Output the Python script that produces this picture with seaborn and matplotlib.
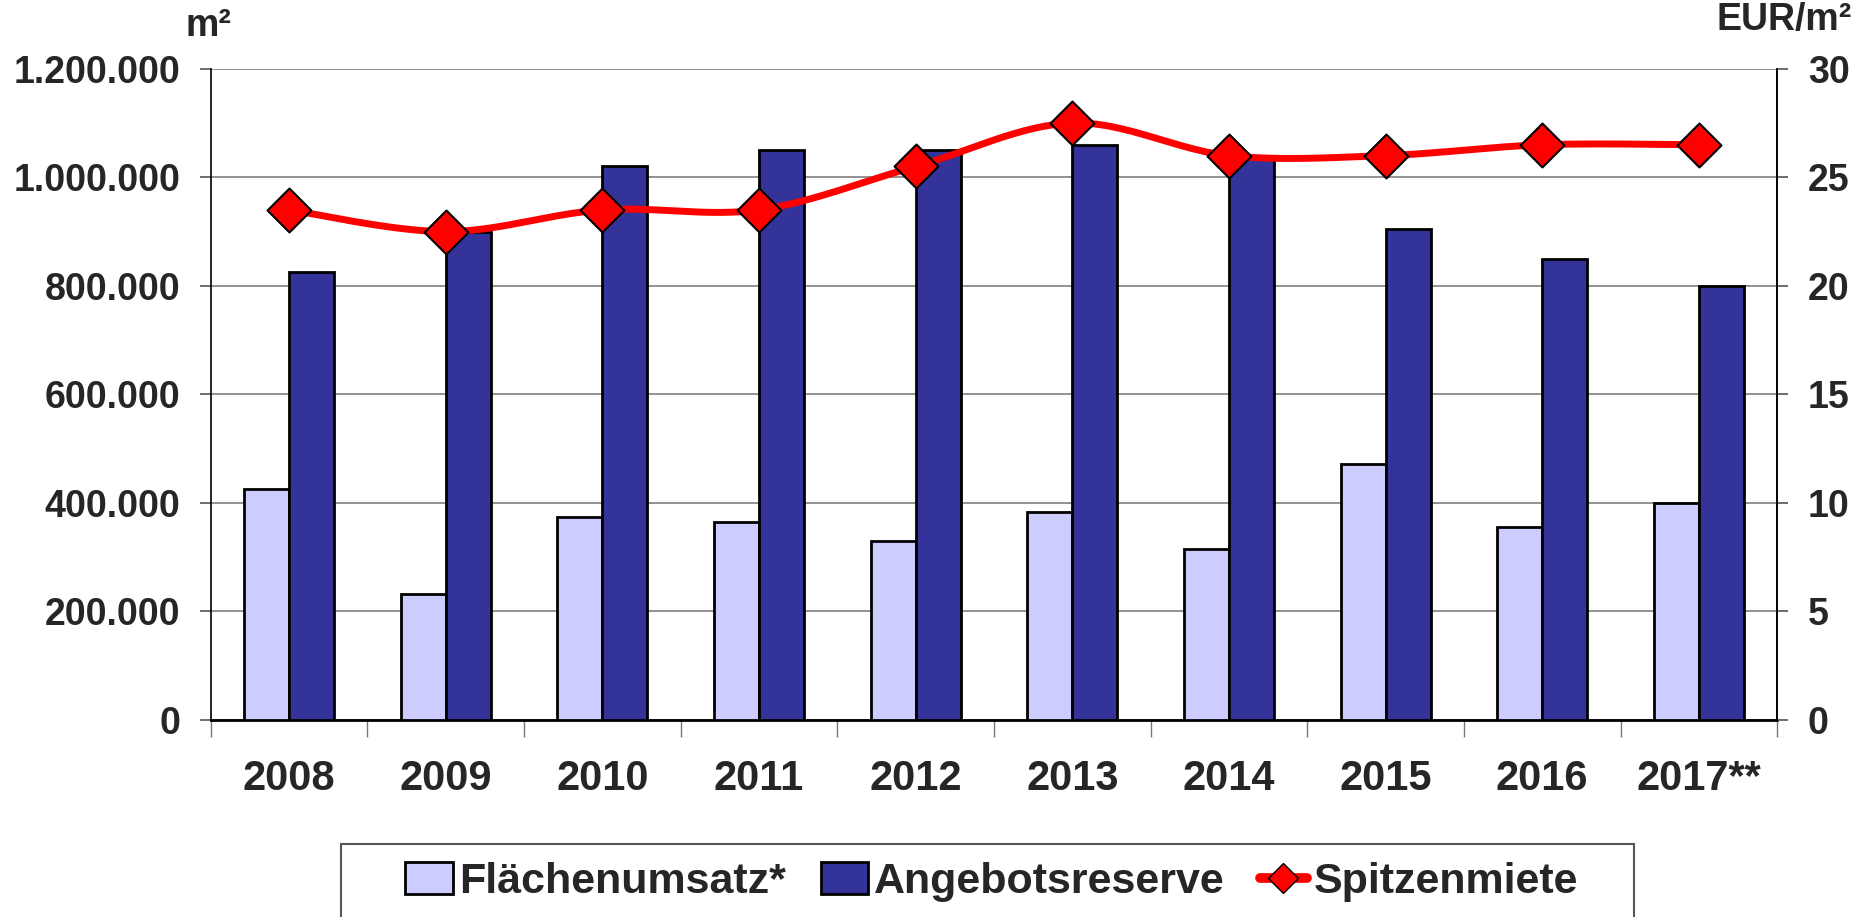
import numpy as np
import pandas as pd
import matplotlib
matplotlib.use("Agg")
import matplotlib.pyplot as plt
import seaborn as sns
from matplotlib.ticker import FuncFormatter, FixedLocator
from matplotlib.patches import Patch, Rectangle
from matplotlib.lines import Line2D

# -------------------------------------------------------------------
# DATA
jahre = ["2008", "2009", "2010", "2011", "2012", "2013", "2014", "2015", "2016", "2017**"]
flaechenumsatz = [425000, 233000, 375000, 365000, 330000, 384000, 316000, 471000, 355000, 400000]
angebotsreserve = [825000, 900000, 1020000, 1050000, 1050000, 1060000, 1035000, 905000, 850000, 800000]
spitzenmiete = [23.5, 22.5, 23.5, 23.5, 25.5, 27.5, 26.0, 26.0, 26.5, 26.5]

serien = ["Flächenumsatz*", "Angebotsreserve"]
farben = ["#CCCCFF", "#333399"]

df = pd.DataFrame({"Jahr": jahre * 2,
                   "Wert": flaechenumsatz + angebotsreserve,
                   "Serie": [serien[0]] * len(jahre) + [serien[1]] * len(jahre)})

sns.set_style("white")
plt.rcParams['font.family'] = ['Liberation Sans', 'DejaVu Sans']
plt.rcParams['font.weight'] = 'bold'

fig = plt.figure(figsize=(18.57, 9.17), dpi=100)
ax = fig.add_axes([0.1135, 0.2148, 0.957 - 0.1135, 0.925 - 0.2148])

sns.barplot(data=df, x="Jahr", y="Wert", hue="Serie", palette=farben, width=0.575,
            saturation=1, edgecolor="black", linewidth=2, ax=ax, legend=False, zorder=3)

ax.set_ylim(0, 1200000)
ax.set_xlim(-0.5, len(jahre) - 0.5)
ax.yaxis.set_major_locator(FixedLocator(np.arange(0, 1200001, 200000)))
ax.yaxis.set_major_formatter(FuncFormatter(lambda v, p: f"{v:,.0f}".replace(",", ".")))
ax.grid(axis="y", color="#808080", linewidth=1.2, zorder=0)
ax.set_axisbelow(True)
ax.set_xlabel("")
ax.set_ylabel("")

for s in ["left", "right", "bottom"]:
    ax.spines[s].set_visible(True)
    ax.spines[s].set_color("black")
    ax.spines[s].set_linewidth(1.2)
ax.spines["top"].set_visible(False)
ax.spines["bottom"].set_linewidth(2)

ax.tick_params(axis="y", which="major", direction="out", length=8, width=1.2,
               color="#555555", labelsize=27, pad=14, left=True)
ax.tick_params(axis="x", which="major", length=0, labelsize=30, pad=28)
ax.set_xticks(np.arange(-0.5, len(jahre), 1.0), minor=True)
ax.tick_params(axis="x", which="minor", direction="out", length=12, width=1, color="#777777", bottom=True)
for lab in ax.get_xticklabels() + ax.get_yticklabels():
    lab.set_fontweight("bold")

# right axis with smooth line
ax2 = ax.twinx()
ax2.set_ylim(0, 30)
ax2.yaxis.set_major_locator(FixedLocator(np.arange(0, 31, 5)))
ax2.tick_params(axis="y", direction="out", length=8, width=1.2, color="#555555",
                labelsize=27, pad=14, right=True)
for lab in ax2.get_yticklabels():
    lab.set_fontweight("bold")
for s in ax2.spines.values():
    s.set_visible(False)
ax2.spines["right"].set_visible(True)
ax2.spines["right"].set_color("black")
ax2.spines["right"].set_linewidth(1.2)

# Catmull-Rom smoothing, like Excel's smoothed line
xs = np.arange(len(jahre), dtype=float)
ys = np.array(spitzenmiete)
px = np.concatenate([[xs[0]], xs, [xs[-1]]])
py = np.concatenate([[ys[0]], ys, [ys[-1]]])
cx, cy = [], []
t = np.linspace(0, 1, 30)
for i in range(1, len(px) - 2):
    for P, out in ((px, cx), (py, cy)):
        p0, p1, p2, p3 = P[i - 1], P[i], P[i + 1], P[i + 2]
        out.extend(0.5 * (2 * p1 + (-p0 + p2) * t + (2 * p0 - 5 * p1 + 4 * p2 - p3) * t ** 2
                          + (-p0 + 3 * p1 - 3 * p2 + p3) * t ** 3))
ax2.plot(cx, cy, color="#FF0000", linewidth=5, zorder=4, solid_capstyle="round")
sns.scatterplot(x=xs, y=ys, marker="D", s=500, color="#FF0000", edgecolor="black",
                linewidth=1.5, ax=ax2, zorder=5)
ax2.set_xlim(-0.5, len(jahre) - 0.5)

# units
fig.text(208 / 1857, 1 - 26 / 917, "m²", ha="center", va="center", fontsize=27, fontweight="bold")
fig.text(1852 / 1857, 1 - 20 / 917, "EUR/m²", ha="right", va="center", fontsize=27, fontweight="bold")

# legend
fig.patches.append(Rectangle((341 / 1857, -0.05), (1634 - 341) / 1857, 0.05 + 1 - 844 / 917,
                             transform=fig.transFigure, fill=False, edgecolor="#555555",
                             linewidth=1.5))
handles = [Patch(facecolor=farben[0], edgecolor="black", linewidth=2),
           Patch(facecolor=farben[1], edgecolor="black", linewidth=2),
           Line2D([], [], color="#FF0000", linewidth=7, marker="D", markersize=15,
                  markerfacecolor="#FF0000", markeredgecolor="black")]
fig.legend(handles, serien + ["Spitzenmiete"], loc="center", bbox_to_anchor=(0.534, 1 - 882 / 917),
           ncol=3, frameon=False, prop={"size": 31, "weight": "bold"}, handlelength=1.1,
           handleheight=0.75, handletextpad=0.15, columnspacing=0.8)

plt.savefig("out.png", dpi=100)
